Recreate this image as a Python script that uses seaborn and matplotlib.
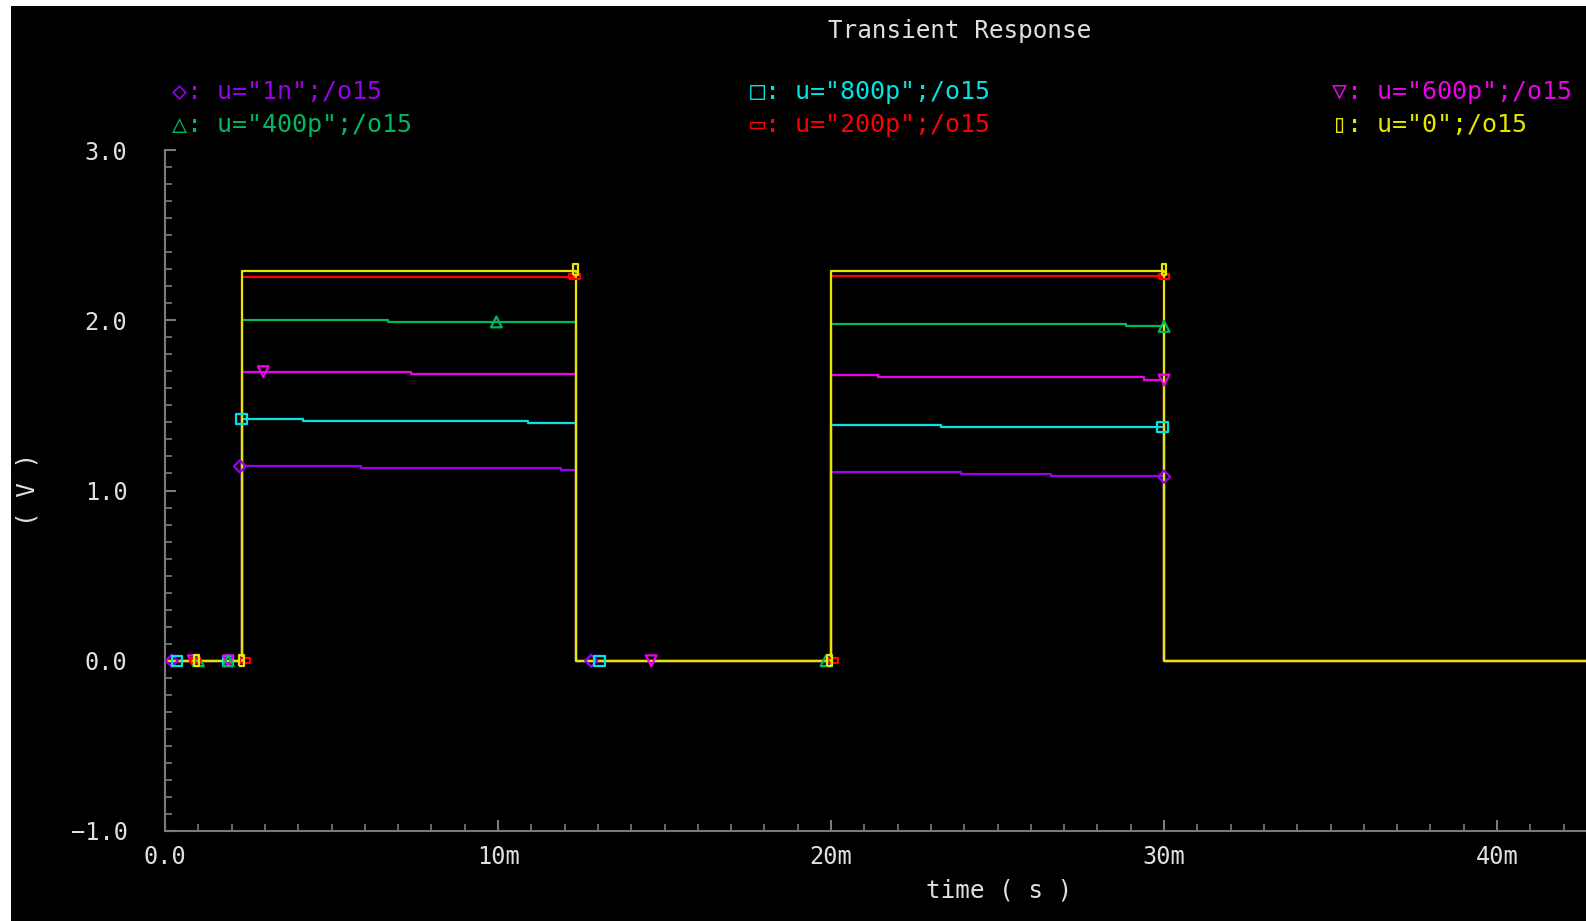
import matplotlib
matplotlib.use("Agg")
import matplotlib.pyplot as plt
from matplotlib.patches import Rectangle
from matplotlib.ticker import FixedLocator, FixedFormatter, MultipleLocator
import seaborn as sns

# ---------------- data (time in ms, voltage in V) ----------------
t_1n = [0, 2.3, 5.9, 11.9, 12.33, 20.0, 23.9, 26.6, 30.0, 42.7]
v_1n = [0, 1.142, 1.130, 1.119, 0, 1.106, 1.095, 1.083, 0, 0]

t_800p = [0, 2.3, 4.15, 10.9, 12.33, 20.0, 23.3, 30.0, 42.7]
v_800p = [0, 1.420, 1.406, 1.396, 0, 1.386, 1.373, 0, 0]

t_600p = [0, 2.3, 7.4, 12.33, 20.0, 21.4, 29.4, 30.0, 42.7]
v_600p = [0, 1.698, 1.686, 0, 1.677, 1.665, 1.649, 0, 0]

t_400p = [0, 2.3, 6.7, 12.33, 20.0, 28.85, 30.0, 42.7]
v_400p = [0, 2.001, 1.990, 0, 1.978, 1.964, 0, 0]

t_200p = [0, 2.3, 12.33, 20.0, 30.0, 42.7]
v_200p = [0, 2.256, 0, 2.258, 0, 0]

t_0 = [0, 2.3, 12.33, 20.0, 30.0, 42.7]
v_0 = [0, 2.292, 0, 2.292, 0, 0]

# marker positions
mt_1n = [0.2, 2.25, 12.8, 30.0]
mv_1n = [0, 1.142, 0, 1.081]
mt_800p = [0.35, 1.9, 2.3, 13.05, 29.95]
mv_800p = [0, 0, 1.420, 0, 1.373]
mt_600p = [0.85, 1.9, 2.95, 14.6, 30.0]
mv_600p = [0, 0, 1.698, 0, 1.649]
mt_400p = [1.0, 1.9, 9.95, 19.85, 30.0]
mv_400p = [0, 0, 1.990, 0, 1.964]
mt_200p = [0.9, 2.4, 12.3, 20.05, 30.0]
mv_200p = [0, 0, 2.256, 0, 2.258]
mt_0 = [0.95, 2.3, 12.33, 19.95, 30.0]
mv_0 = [0, 0, 2.30, 0, 2.30]

legend_labels = ['u="1n";/o15', 'u="800p";/o15', 'u="600p";/o15',
                 'u="400p";/o15', 'u="200p";/o15', 'u="0";/o15']
legend_symbols = ['◇', '□', '▽', '△', '▭', '▯']

y_ticks = [-1.0, 0.0, 1.0, 2.0, 3.0]
y_ticklabels = ['−1.0', '0.0', '1.0', '2.0', '3.0']
x_ticks = [0, 10, 20, 30, 40]
x_ticklabels = ['0.0', '10m', '20m', '30m', '40m']

# ---------------- style ----------------
sns.set_style("dark", {"axes.facecolor": "black", "figure.facecolor": "white"})
plt.rcParams['font.family'] = ['DejaVu Sans Mono', 'DejaVu Sans']

C_1N = "#9a00ee"
C_800P = "#00e4e4"
C_600P = "#ee00ee"
C_400P = "#00b860"
C_200P = "#ff0000"
C_0 = "#e6e600"
GRAY = "#7a7a7a"
TXT = "#e0e0e0"

W, H = 1586, 921
fig = plt.figure(figsize=(W / 100, H / 100), dpi=100, facecolor="white")
fig.patches.append(Rectangle((11 / W, 0), 1 - 11 / W, 1 - 6 / H,
                             transform=fig.transFigure, facecolor="black",
                             edgecolor="none", zorder=-10))

ax = fig.add_axes([165 / W, 1 - 831 / H, 1 - 165 / W, (831 - 150) / H])
ax.set_facecolor("black")

series = [
    (t_1n, v_1n, mt_1n, mv_1n, C_1N, 'D', 38),
    (t_800p, v_800p, mt_800p, mv_800p, C_800P, 's', 55),
    (t_600p, v_600p, mt_600p, mv_600p, C_600P, 'v', 60),
    (t_400p, v_400p, mt_400p, mv_400p, C_400P, '^', 60),
    (t_200p, v_200p, mt_200p, mv_200p, C_200P,
     [(-1, -0.45), (1, -0.45), (1, 0.45), (-1, 0.45), (-1, -0.45)], 60),
    (t_0, v_0, mt_0, mv_0, C_0,
     [(-0.45, -1), (0.45, -1), (0.45, 1), (-0.45, 1), (-0.45, -1)], 60),
]

for i, (t, v, mt, mv, c, m, s) in enumerate(series):
    sns.lineplot(x=t, y=v, ax=ax, color=c, linewidth=1.6,
                 drawstyle="steps-post", estimator=None, sort=False,
                 zorder=2 + i)
for i, (t, v, mt, mv, c, m, s) in enumerate(series):
    sns.scatterplot(x=mt, y=mv, ax=ax, marker=m, s=s, facecolors="none",
                    edgecolors=c, linewidths=1.6, zorder=10 + i)

ax.set_xlim(0, 42.67)
ax.set_ylim(-1, 3)

for side in ["top", "right"]:
    ax.spines[side].set_visible(False)
for side in ["left", "bottom"]:
    ax.spines[side].set_visible(True)
    ax.spines[side].set_color(GRAY)
    ax.spines[side].set_linewidth(1.5)

ax.yaxis.set_major_locator(FixedLocator(y_ticks))
ax.yaxis.set_major_formatter(FixedFormatter(y_ticklabels))
ax.yaxis.set_minor_locator(MultipleLocator(0.1))
ax.xaxis.set_major_locator(FixedLocator(x_ticks))
ax.xaxis.set_major_formatter(FixedFormatter(x_ticklabels))
ax.xaxis.set_minor_locator(MultipleLocator(1))

ax.tick_params(axis="both", which="both", direction="in", colors=GRAY,
               labelcolor=TXT, labelsize=17, left=True, bottom=True,
               top=False, right=False)
ax.tick_params(axis="both", which="major", length=8, width=1.5)
ax.tick_params(axis="both", which="minor", length=5, width=1.2)
ax.tick_params(axis="y", which="major", pad=27)
ax.tick_params(axis="x", which="major", pad=10)
ax.grid(False)

ax.set_xlabel("")
ax.set_ylabel("")

fig.text(960 / W, 1 - 31 / H, "Transient Response", color=TXT, fontsize=17.5,
         ha="center", va="center")
fig.text(999 / W, 1 - 890 / H, "time ( s )", color=TXT, fontsize=17.5,
         ha="center", va="center")
fig.text(27 / W, 1 - 489 / H, "( V )", color=TXT, fontsize=17.5,
         ha="center", va="center", rotation=90)

colors = [C_1N, C_800P, C_600P, C_400P, C_200P, C_0]
col_x = [172, 750, 1332]
row_y = [92, 125]
for k, (sym, lab, c) in enumerate(zip(legend_symbols, legend_labels, colors)):
    r, col = divmod(k, 3)
    fig.text(col_x[col] / W, 1 - row_y[r] / H, f"{sym}: {lab}", color=c,
             fontsize=18, ha="left", va="center",
             family=['DejaVu Sans Mono', 'DejaVu Sans'])

fig.savefig("out.png", dpi=100, facecolor=fig.get_facecolor())
